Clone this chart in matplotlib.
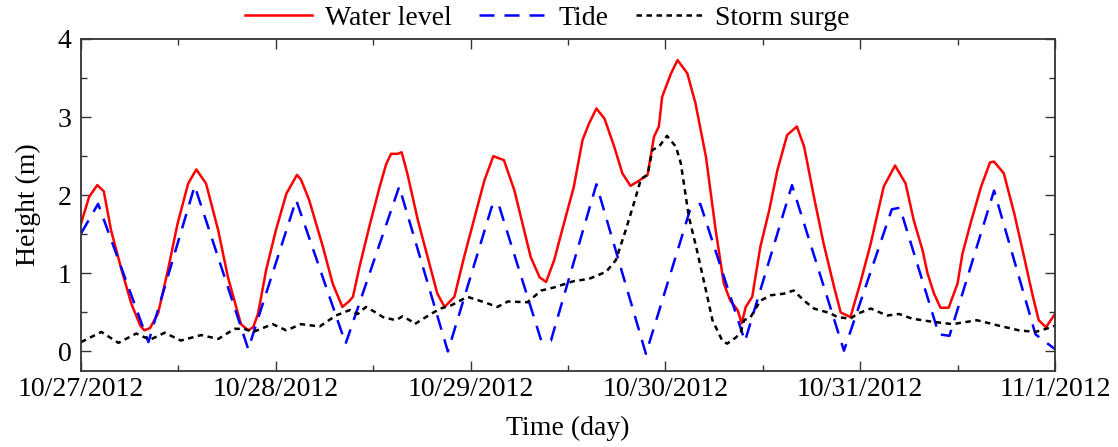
import matplotlib
matplotlib.use("Agg")
import matplotlib.pyplot as plt
from matplotlib.ticker import MultipleLocator, FixedLocator

plt.rcParams['font.family'] = ['Liberation Serif', 'DejaVu Serif']
plt.rcParams['mathtext.fontset'] = 'stix'

# Hours since 10/27/2012 00:00 and heights (m)
wl_hours = [0, 1.0, 2.0, 2.8, 3.7, 5.0, 6.2, 7.3, 7.8, 8.5, 9.5, 10.7, 11.9, 13.2,
            14.2, 15.4, 16.9, 18.1, 19.7, 20.6, 21.2, 21.8, 22.8, 24.0, 25.3, 26.6,
            27.1, 28.1, 29.8, 31.0, 32.2, 33.0, 33.5, 34.3, 35.5, 36.8, 37.6, 38.2,
            39.0, 39.5, 40.2, 41.5, 42.7, 43.9, 44.8, 46.0, 47.2, 48.5, 49.7, 50.8,
            51.3, 52.1, 53.4, 54.6, 55.4, 56.5, 57.3, 58.3, 59.5, 60.7, 61.8, 62.6,
            63.5, 64.5, 65.7, 66.7, 67.7, 68.8, 69.8, 70.6, 71.2, 71.6, 72.7, 73.5,
            74.7, 75.7, 77.0, 78.2, 79.2, 80.0, 80.9, 81.4, 81.9, 82.7, 83.7, 84.8,
            85.8, 87.0, 88.2, 89.1, 90.3, 91.5, 92.8, 93.6, 94.8, 96.0, 97.3, 98.9,
            100.3, 101.6, 102.6, 103.7, 104.3, 105.1, 105.9, 106.9, 108.0, 108.6,
            109.6, 110.9, 112.0, 112.5, 113.7, 115.0, 116.2, 117.2, 118.0, 118.9, 120.0]
wl_values = [1.64, 1.98, 2.13, 2.05, 1.55, 1.04, 0.61, 0.33, 0.27, 0.30, 0.49, 1.04, 1.64, 2.15,
             2.33, 2.15, 1.55, 0.95, 0.35, 0.27, 0.31, 0.48, 1.04, 1.55, 2.02, 2.26,
             2.20, 1.94, 1.34, 0.87, 0.57, 0.64, 0.70, 1.08, 1.59, 2.11, 2.40, 2.53,
             2.53, 2.55, 2.28, 1.68, 1.21, 0.74, 0.57, 0.70, 1.21, 1.72, 2.19, 2.50,
             2.48, 2.45, 2.06, 1.55, 1.21, 0.95, 0.89, 1.17, 1.64, 2.10, 2.71, 2.92,
             3.11, 2.98, 2.62, 2.28, 2.12, 2.19, 2.26, 2.75, 2.88, 3.26, 3.56, 3.73,
             3.56, 3.18, 2.49, 1.55, 0.87, 0.65, 0.53, 0.36, 0.57, 0.70, 1.34, 1.81,
             2.32, 2.77, 2.88, 2.62, 1.98, 1.38, 0.82, 0.50, 0.44, 0.87, 1.38, 2.11,
             2.38, 2.15, 1.68, 1.29, 1.00, 0.74, 0.56, 0.56, 0.87, 1.25,
             1.64, 2.11, 2.42, 2.43, 2.28, 1.76, 1.21, 0.74, 0.40, 0.31, 0.48]

tide_hours = [0, 2.1, 8.3, 14.0, 20.6, 26.5, 32.6, 39.2, 45.2, 50.6, 51.4, 56.7, 57.9,
              63.5, 69.6, 75.0, 76.3, 81.8, 87.6, 94.0, 99.9, 100.9, 105.7, 107.0,
              112.5, 117.6, 120.0]
tide_values = [1.51, 1.89, 0.12, 2.12, 0.03, 1.94, 0.10, 2.11, 0.00, 1.85, 1.90, 0.14, 0.14,
               2.14, -0.03, 1.80, 1.89, 0.13, 2.13, 0.01, 1.82, 1.84, 0.22, 0.20,
               2.06, 0.22, 0.03]

surge_hours = [0, 2.5, 4.6, 6.8, 8.5, 10.3, 12.3, 14.8, 16.9, 18.9, 20.1, 21.2, 23.6,
               25.3, 27.1, 29.4, 31.4, 33.1, 34.1, 35.1, 36.3, 37.2, 38.8, 39.6, 40.5,
               41.1, 43.1, 44.3, 45.6, 47.6, 49.7, 51.3, 52.6, 55.0, 56.7, 58.3, 60.7,
               62.6, 64.7, 65.9, 67.1, 68.1, 69.0, 69.8, 70.4, 71.2, 72.2, 73.3, 73.9,
               74.9, 75.9, 77.0, 77.8, 79.0, 79.6, 80.7, 81.3, 81.7, 82.5, 83.7, 85.0,
               86.6, 87.8, 89.1, 90.3, 92.3, 93.2, 94.8, 95.6, 97.3, 99.3, 100.8, 102.4,
               104.9, 107.4, 110.4, 113.1, 115.6, 117.6, 118.9, 120.0]
surge_values = [0.12, 0.25, 0.11, 0.23, 0.15, 0.24, 0.14, 0.21, 0.16, 0.29, 0.29, 0.25, 0.35,
                0.27, 0.35, 0.32, 0.46, 0.53, 0.48, 0.57, 0.50, 0.44, 0.40, 0.45, 0.40,
                0.35, 0.48, 0.55, 0.59, 0.70, 0.63, 0.57, 0.64, 0.63, 0.78, 0.82, 0.90,
                0.93, 1.02, 1.17, 1.55, 1.89, 2.21, 2.26, 2.58, 2.62, 2.76, 2.62, 2.41,
                1.72, 1.29, 0.78, 0.40, 0.14, 0.10, 0.18, 0.25, 0.40, 0.44, 0.65, 0.72,
                0.74, 0.78, 0.65, 0.55, 0.49, 0.44, 0.42, 0.48, 0.55, 0.46, 0.48, 0.42,
                0.38, 0.35, 0.40, 0.33, 0.27, 0.25, 0.29, 0.33]

day_ticks = [0, 24, 48, 72, 96, 120]
day_labels = ['10/27/2012', '10/28/2012', '10/29/2012', '10/30/2012', '10/31/2012', '11/1/2012']

fig = plt.figure(figsize=(11.18, 4.47), dpi=100)
ax = fig.add_axes([0.0725, 0.170, 0.8711, 0.7428])

ax.plot(wl_hours, wl_values, color='#ff0000', lw=1.8, label='Water level',
        solid_joinstyle='round')
ax.plot(tide_hours, tide_values, color='#0000ff', lw=1.8, dashes=(6, 4), label='Tide')
ax.plot(surge_hours, surge_values, color='black', lw=1.8, dashes=(2.2, 1.8),
        label='Storm surge')

ax.set_xlim(0, 120)
ax.set_ylim(-0.25, 4)
ax.xaxis.set_major_locator(FixedLocator(day_ticks))
ax.set_xticklabels(day_labels)
ax.xaxis.set_minor_locator(MultipleLocator(12))
ax.yaxis.set_major_locator(MultipleLocator(1))
ax.yaxis.set_minor_locator(MultipleLocator(0.5))

ax.tick_params(which='both', direction='in', top=True, right=True, labelsize=20,
               width=1.0, color='#333333')
ax.tick_params(axis='x', pad=4)
ax.tick_params(axis='y', pad=7)
ax.tick_params(which='major', length=7)
ax.tick_params(which='minor', length=4)
for s in ax.spines.values():
    s.set_linewidth(1.3)
    s.set_color('#333333')

ax.set_xlabel('Time (day)', fontsize=20, labelpad=10)
ax.set_ylabel('Height (m)', fontsize=20, labelpad=12)

ax.legend(loc='center', bbox_to_anchor=(0.479, 1.063), ncol=3, frameon=False,
          fontsize=20, handlelength=2.4, handletextpad=0.45, columnspacing=1.0,
          borderaxespad=0, borderpad=0.0)

fig.savefig('out.png', dpi=100)
